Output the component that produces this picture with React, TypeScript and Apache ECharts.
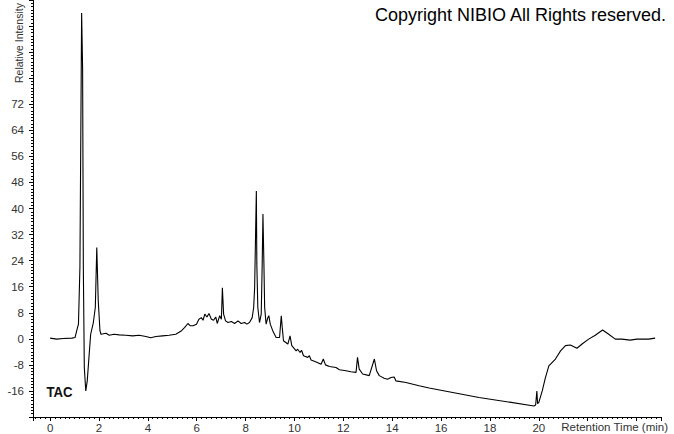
import React, { useEffect, useRef } from "react";
import * as echarts from "echarts";

// Retention time (min) and relative intensity
const times = [
  0.0, 0.27, 0.54, 0.89, 1.02, 1.09, 1.16, 1.22, 1.29, 1.31, 1.33, 1.36, 1.4, 1.46, 1.52, 1.59,
  1.66, 1.77, 1.85, 1.91, 1.93, 1.97, 2.04, 2.08, 2.29, 2.42, 2.62, 2.83, 3.1, 3.38, 3.64,
  3.92, 4.12, 4.33, 4.6, 4.87, 5.14, 5.38, 5.51, 5.64, 5.74, 5.85, 5.99, 6.09, 6.19, 6.26,
  6.33, 6.42, 6.5, 6.6, 6.69, 6.78, 6.84, 6.94, 7.01, 7.05, 7.1, 7.18, 7.28, 7.42, 7.55,
  7.69, 7.82, 7.96, 8.05, 8.16, 8.27, 8.33, 8.37, 8.44, 8.46, 8.5, 8.57, 8.64, 8.68, 8.71,
  8.75, 8.78, 8.84, 8.91, 8.95, 9.01, 9.11, 9.25, 9.39, 9.46, 9.5, 9.55, 9.73, 9.82, 9.89,
  10.07, 10.13, 10.23, 10.29, 10.37, 10.54, 10.61, 10.68, 10.89, 11.09, 11.18, 11.27, 11.43,
  11.7, 11.84, 12.11, 12.31, 12.52, 12.58, 12.65, 12.79, 13.06, 13.27, 13.36, 13.47, 13.67,
  13.81, 13.95, 14.08, 14.15, 14.56, 15.1, 15.51, 17.55, 19.8, 19.87, 19.92, 19.95, 20.0,
  20.14, 20.27, 20.41, 20.68, 20.89, 21.09, 21.29, 21.56, 21.77, 22.04, 22.31, 22.61, 22.86,
  23.13, 23.4, 23.74, 24.01, 24.49, 24.76,
];
const intensity = [
  0.2, -0.1, 0.1, 0.2, 0.4, 2.5, 4.5, 21.9, 100, 100, 83, 21.9, -8.8, -16, -12.9, -5.7,
  1.4, 5.0, 9.6, 28, 28, 11.7, 2.5, 1.4, 1.7, 1.1, 1.4, 1.2, 1.1, 0.9, 1.1,
  0.7, 0.3, 0.7, 0.9, 1.1, 1.4, 2.5, 3.5, 4.7, 4.0, 4.0, 4.5, 6.0, 6.5, 5.7,
  7.6, 6.7, 7.8, 6.0, 5.7, 6.7, 4.7, 7.1, 6.0, 15.7, 7.6, 5.5, 5.0, 5.3, 4.7,
  5.5, 4.7, 5.0, 4.5, 5.0, 6.5, 9.6, 15.7, 45.4, 23, 9.6, 5.0, 7.6, 23, 38.3,
  23, 9.6, 4.5, 6.5, 7.1, 4.5, 2.5, 0.4, 0.4, 7.1, 3.5, -0.6, -1.6, 0.9, -2.1,
  -3.7, -3.2, -4.2, -3.5, -5.2, -5.7, -5.2, -6.5, -7.1, -7.8, -6.2, -8.0, -8.5,
  -8.8, -9.5, -9.8, -10.1, -10.3, -5.7, -9.3, -10.8, -11.3, -6.2, -9.8, -11.3, -12.1,
  -12.4, -11.9, -11.7, -12.9, -13.4, -14.4, -15.1, -18.0, -20.6, -20.3, -16, -19.9, -19.5,
  -16, -11.9, -8.3, -6.2, -3.7, -2.1, -1.9, -2.9, -1.6, -0.1, 1.1, 2.7, 1.4,
  -0.1, -0.1, -0.4, -0.1, -0.1, 0.2,
];

const yLabelMin = -16;
const yLabelMax = 72;
const xLabelMax = 20;

export default function App() {
  const ref = useRef<HTMLDivElement>(null);
  useEffect(() => {
    if (!ref.current) return;
    const chart = echarts.init(ref.current, null, { renderer: "svg" });
    const data = times.map((t, i) => [t, intensity[i]]);
    const labelColor = "#333";
    const font = "Arial, 'Liberation Sans', sans-serif";
    chart.setOption({
      animation: false,
      backgroundColor: "#fff",
      grid: { left: 33, top: 0, width: 628, height: 417, containLabel: false },
      xAxis: {
        type: "value",
        min: -0.7,
        max: 25,
        splitNumber: 13,
        axisLine: { show: true, onZero: false, lineStyle: { color: "#000", width: 1 } },
        axisTick: { show: true, length: 4, lineStyle: { color: "#000" } },
        minorTick: { show: true, splitNumber: 10, length: 2, lineStyle: { color: "#000" } },
        splitLine: { show: false },
        minorSplitLine: { show: false },
        axisLabel: {
          color: labelColor,
          fontFamily: font,
          fontSize: 11.5,
          margin: 5,
          showMinLabel: true,
          showMaxLabel: true,
          formatter: (v: number) => {
            const r = Math.round(v * 1000) / 1000;
            return Number.isInteger(r) && r % 2 === 0 && r >= 0 && r <= xLabelMax ? String(r) : "";
          },
        },
      },
      yAxis: {
        type: "value",
        min: -24,
        max: 104,
        interval: 8,
        axisLine: { show: true, onZero: false, lineStyle: { color: "#000", width: 1 } },
        axisTick: { show: true, length: 4, lineStyle: { color: "#000" } },
        minorTick: { show: true, splitNumber: 8, length: 2, lineStyle: { color: "#000" } },
        splitLine: { show: false },
        minorSplitLine: { show: false },
        axisLabel: {
          color: labelColor,
          fontFamily: font,
          fontSize: 11.5,
          margin: 9,
          formatter: (v: number) => (v >= yLabelMin && v <= yLabelMax ? String(v) : ""),
        },
      },
      series: [
        {
          type: "line",
          data,
          showSymbol: false,
          symbol: "none",
          lineStyle: { color: "#000", width: 1.1 },
          z: 3,
        },
      ],
      graphic: [
        {
          type: "text",
          right: 7,
          top: 6,
          style: {
            text: "Copyright NIBIO All Rights reserved.",
            fontFamily: font,
            fontSize: 18,
            fill: "#000",
          },
        },
        {
          type: "text",
          x: 46.5,
          y: 392,
          scaleX: 0.88,
          style: {
            text: "TAC",
            fontFamily: font,
            fontSize: 15,
            fontWeight: "bold",
            fill: "#111",
            textVerticalAlign: "middle",
            textAlign: "left",
          },
        },
        {
          type: "text",
          x: 18.5,
          y: 83,
          rotation: Math.PI / 2,
          style: {
            text: "Relative Intensity",
            fontFamily: font,
            fontSize: 10.5,
            fill: labelColor,
            textAlign: "left",
            textVerticalAlign: "middle",
          },
        },
        {
          type: "text",
          x: 668,
          y: 427,
          style: {
            text: "Retention Time (min)",
            fontFamily: font,
            fontSize: 11.5,
            fill: labelColor,
            textAlign: "right",
            textVerticalAlign: "middle",
          },
        },
      ],
    });
    return () => chart.dispose();
  }, []);
  return <div ref={ref} style={{ width: 674, height: 434, position: "fixed", left: 0, top: 0 }} />;
}
